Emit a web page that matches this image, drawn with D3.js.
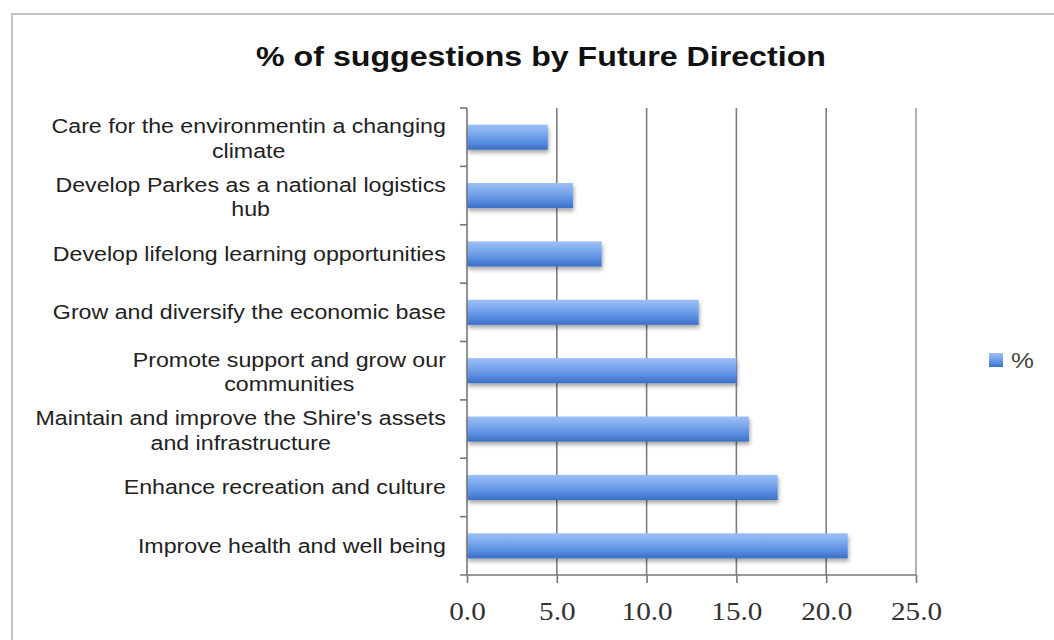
<!DOCTYPE html>
<html>
<head>
<meta charset="utf-8">
<script src="https://cdn.jsdelivr.net/npm/d3@7"></script>
<style>
  html, body { margin: 0; padding: 0; background: #fff; }
  svg { display: block; }
</style>
</head>
<body>
<svg id="chart" width="1054" height="640"></svg>
<script>
// Future Directions, listed top to bottom; "\n" splits a label onto two lines
const categories = [
  "Care for the environmentin a changing\nclimate",
  "Develop Parkes as a national logistics\nhub",
  "Develop lifelong learning opportunities",
  "Grow and diversify the economic base",
  "Promote support and grow our\ncommunities",
  "Maintain and improve the Shire's assets\nand infrastructure",
  "Enhance recreation and culture",
  "Improve health and well being"
];
// share of suggestions (%)
const percentValues = [4.5, 5.9, 7.5, 12.9, 15.0, 15.7, 17.3, 21.2];
const xTicks = [0, 5, 10, 15, 20, 25];
const seriesName = "%";
const chartTitle = "% of suggestions by Future Direction";

const svg = d3.select("#chart");
const SX = 1.17;       // horizontal stretch for title, ticks and legend
const SX_LABEL = 1.16; // horizontal stretch for category labels

const plot = { left: 467, right: 916, top: 108, bottom: 575 };

const x = d3.scaleLinear().domain([0, 25]).range([plot.left, plot.right]);
const y = d3.scaleBand().domain(categories).range([plot.top, plot.bottom]).paddingInner(0.57).paddingOuter(0.285);
const yBand = d3.scaleBand().domain(categories).range([plot.top, plot.bottom]);

const defs = svg.append("defs");
const grad = defs.append("linearGradient").attr("id", "barGrad")
  .attr("x1", 0).attr("y1", 0).attr("x2", 0).attr("y2", 1);
grad.append("stop").attr("offset", "0%").attr("stop-color", "#9dc0f5");
grad.append("stop").attr("offset", "35%").attr("stop-color", "#7ca9ee");
grad.append("stop").attr("offset", "75%").attr("stop-color", "#5388dc");
grad.append("stop").attr("offset", "100%").attr("stop-color", "#3b6ec4");

const shadow = defs.append("filter").attr("id", "barShadow")
  .attr("x", "-5%").attr("y", "-30%").attr("width", "115%").attr("height", "180%");
shadow.append("feGaussianBlur").attr("in", "SourceAlpha").attr("stdDeviation", 2.2).attr("result", "blur");
shadow.append("feOffset").attr("in", "blur").attr("dx", 1).attr("dy", 3).attr("result", "off");
shadow.append("feComponentTransfer").attr("in", "off").attr("result", "soft")
  .append("feFuncA").attr("type", "linear").attr("slope", 0.35);
const merge = shadow.append("feMerge");
merge.append("feMergeNode").attr("in", "soft");
merge.append("feMergeNode").attr("in", "SourceGraphic");

// chart frame
svg.append("rect")
  .attr("x", 12).attr("y", 14).attr("width", 1100).attr("height", 700)
  .attr("fill", "none").attr("stroke", "#c4c4c4").attr("stroke-width", 2);

// title
svg.append("g")
  .attr("transform", `translate(541,66) scale(${SX},1)`)
  .append("text")
  .attr("text-anchor", "middle")
  .attr("font-family", "Liberation Sans, Arial, sans-serif")
  .attr("font-weight", "bold")
  .attr("font-size", 27.5)
  .attr("fill", "#111")
  .text(chartTitle);

// vertical gridlines
svg.append("g").selectAll("line")
  .data(xTicks.filter(d => d > 0))
  .join("line")
  .attr("x1", d => x(d)).attr("x2", d => x(d))
  .attr("y1", plot.top).attr("y2", plot.bottom)
  .attr("stroke", d => d === 25 ? "#a0a0a0" : "#7e7e7e")
  .attr("stroke-width", 1.6);

// bars
svg.append("g").selectAll("rect")
  .data(categories)
  .join("rect")
  .attr("x", x(0))
  .attr("y", d => y(d))
  .attr("width", (d, i) => x(percentValues[i]) - x(0))
  .attr("height", y.bandwidth())
  .attr("fill", "url(#barGrad)")
  .attr("filter", "url(#barShadow)");

// x axis
const xAxis = svg.append("g")
  .attr("transform", `translate(0,${plot.bottom})`)
  .call(d3.axisBottom(x).tickValues(xTicks).tickFormat(d3.format(".1f")).tickSizeInner(8).tickSizeOuter(0));
xAxis.select(".domain").attr("stroke", "#777").attr("stroke-width", 1.6)
  .attr("d", `M${plot.left - 7},0H${plot.right}`);
xAxis.selectAll(".tick line").attr("stroke", "#777").attr("stroke-width", 1.6);
xAxis.selectAll(".tick text")
  .attr("y", 0).attr("dy", 0)
  .attr("transform", `translate(0,45) scale(${SX},1)`)
  .attr("font-family", "Liberation Serif, Times New Roman, serif")
  .attr("font-size", 25)
  .attr("fill", "#333");

// y axis line with ticks at category boundaries
const yAxisG = svg.append("g");
yAxisG.append("line")
  .attr("x1", plot.left).attr("x2", plot.left)
  .attr("y1", plot.top).attr("y2", plot.bottom)
  .attr("stroke", "#777").attr("stroke-width", 1.6);
yAxisG.selectAll("line.tick")
  .data(categories)
  .join("line")
  .attr("class", "tick")
  .attr("x1", plot.left - 7).attr("x2", plot.left)
  .attr("y1", d => yBand(d)).attr("y2", d => yBand(d))
  .attr("stroke", "#777").attr("stroke-width", 1.6);

// category labels: centred lines, block right-aligned against the axis
const labelRight = 446;
const lineH = 24.5;
const labelG = svg.append("g");
categories.forEach(cat => {
  const lines = cat.split("\n");
  const cy = yBand(cat) + yBand.bandwidth() / 2;
  const g = labelG.append("g");
  const texts = lines.map((ln, i) => g.append("text")
    .attr("text-anchor", "middle")
    .attr("font-family", "Liberation Sans, Arial, sans-serif")
    .attr("font-size", 20)
    .attr("fill", "#222")
    .attr("y", (i - (lines.length - 1) / 2) * lineH + 7)
    .text(ln));
  const w = d3.max(texts, t => t.node().getComputedTextLength());
  g.attr("transform", `translate(${labelRight - SX_LABEL * w / 2},${cy + (lines.length > 1 ? 1.5 : 0)}) scale(${SX_LABEL},1)`);
});

// legend
const legend = svg.append("g");
legend.append("rect")
  .attr("x", 989).attr("y", 353).attr("width", 14).attr("height", 14)
  .attr("fill", "url(#barGrad)");
legend.append("g")
  .attr("transform", `translate(1011,368) scale(${SX},1)`)
  .append("text")
  .attr("font-family", "Liberation Sans, Arial, sans-serif")
  .attr("font-size", 22)
  .attr("fill", "#444")
  .text(seriesName);
</script>
</body>
</html>
